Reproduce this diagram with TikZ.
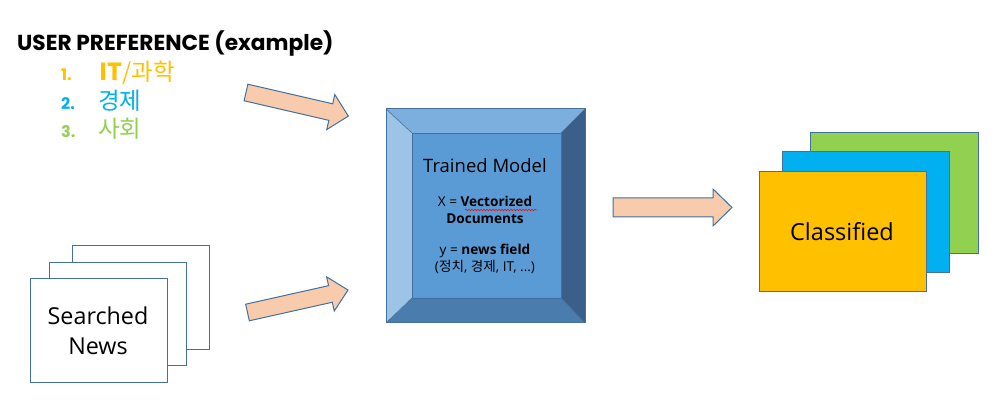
\documentclass[tikz,border=0pt]{standalone}
\usepackage{fontspec}
\setmainfont{Open Sans}
\newfontfamily\kr{Noto Sans CJK KR}
\newfontfamily\titlefont{Poppins}
\usetikzlibrary{decorations.pathmorphing}
\definecolor{edgeblue}{HTML}{41719C}
\definecolor{arrowfill}{HTML}{F8CBAD}
\definecolor{face}{HTML}{5B9BD5}
\definecolor{bevtop}{HTML}{7DAFDE}
\definecolor{bevleft}{HTML}{9DC3E6}
\definecolor{bevright}{HTML}{3A5F88}
\definecolor{bevbot}{HTML}{4A7DAE}
\definecolor{korange}{HTML}{FFC000}
\definecolor{kblue}{HTML}{00B0F0}
\definecolor{kgreen}{HTML}{92D050}
\tikzset{
  arrowsty/.style={draw=edgeblue, fill=arrowfill, line width=1pt, line join=miter},
  page/.style={draw=edgeblue, line width=1pt, fill=white},
  cls/.style={draw=edgeblue, line width=1pt},
  numsty/.style={anchor=west, inner sep=0pt, font=\titlefont\bfseries\fontsize{16}{18}\selectfont},
  krsty/.style={anchor=west, inner sep=0pt, font=\kr\fontsize{23.5}{26}\selectfont},
}
\newcommand{\blockarrow}[6]{% tail, angle, length, shaft, head, headlen
  \draw[arrowsty, shift={(#1)}, rotate=#2]
    (0,-#4/2) -- (#3-#6,-#4/2) -- (#3-#6,-#5/2) -- (#3,0) -- (#3-#6,#5/2) -- (#3-#6,#4/2) -- (0,#4/2) -- cycle;}
\begin{document}
\begin{tikzpicture}[x=1pt,y=-1pt]
\useasboundingbox (0,0) rectangle (1004,411);
% title and list
\node[anchor=base west, inner sep=0pt, font=\titlefont\bfseries\fontsize{21.7}{26}\selectfont] (title) at (17,51) {USER PREFERENCE (example)};
\node[numsty, text=korange] (n1) at (61,75) {1.};
\node[krsty, text=korange] (i1) at (99,73) {\textbf{IT}/과학};
\node[numsty, text=kblue] (n2) at (61,104) {2.};
\node[krsty, text=kblue] (i2) at (98,101) {경제};
\node[numsty, text=kgreen] (n3) at (61,132) {3.};
\node[krsty, text=kgreen] (i3) at (98,129) {사회};
% searched news pages
\draw[page] (72,246) rectangle (209,350);
\draw[page] (49,263) rectangle (186,366);
\draw[page] (30,279) rectangle (167,383);
\node[align=center, font=\fontsize{23.3}{30}\selectfont] (news) at (98,331) {Searched\\News};
% trained model bevel box
\coordinate (o1) at (386,109); \coordinate (o2) at (585,109);
\coordinate (o3) at (585,323); \coordinate (o4) at (386,323);
\coordinate (i1c) at (412,133); \coordinate (i2c) at (561,133);
\coordinate (i3c) at (561,298); \coordinate (i4c) at (412,298);
\fill[face] (i1c) rectangle (i3c);
\fill[bevtop] (o1) -- (o2) -- (i2c) -- (i1c) -- cycle;
\fill[bevright] (o2) -- (o3) -- (i3c) -- (i2c) -- cycle;
\fill[bevbot] (o3) -- (o4) -- (i4c) -- (i3c) -- cycle;
\fill[bevleft] (o4) -- (o1) -- (i1c) -- (i4c) -- cycle;
\draw[edgeblue, line width=0.6pt] (i1c) rectangle (i3c);
\draw[edgeblue, line width=0.6pt] (o1) -- (i1c) (o2) -- (i2c) (o3) -- (i3c) (o4) -- (i4c);
\draw[edgeblue, line width=1pt] (o1) rectangle (o3);
\node[font=\fontsize{18.5}{22}\selectfont] (tm) at (485,166) {Trained Model};
\node[align=center, font=\fontsize{13.6}{16.5}\selectfont] (xv) at (485,210) {X = \textbf{Vectorized}\\\textbf{Documents}};
\node[align=center, font=\fontsize{13.6}{16.5}\selectfont] (yv) at (485,259) {y = \textbf{news field}\\({\kr 정치}, {\kr 경제}, IT, ...)};
\draw[red, line width=0.5pt, decorate, decoration={snake, amplitude=0.8pt, segment length=3pt}] (465,210) -- (537,210);
% classified stack
\draw[cls, fill=kgreen] (810,133) rectangle (978,254);
\draw[cls, fill=kblue] (782,152) rectangle (949,273);
\draw[cls, fill=korange] (759,172) rectangle (926,292);
\node[font=\fontsize{23.5}{28}\selectfont] (cl) at (842,232) {Classified};
% block arrows
\blockarrow{246,92.5}{-13}{105}{17}{36}{18}
\blockarrow{247.5,312.5}{12.6}{103}{17}{35}{18}
\blockarrow{613,207.5}{0}{119}{19}{37}{19}
\end{tikzpicture}
\end{document}
